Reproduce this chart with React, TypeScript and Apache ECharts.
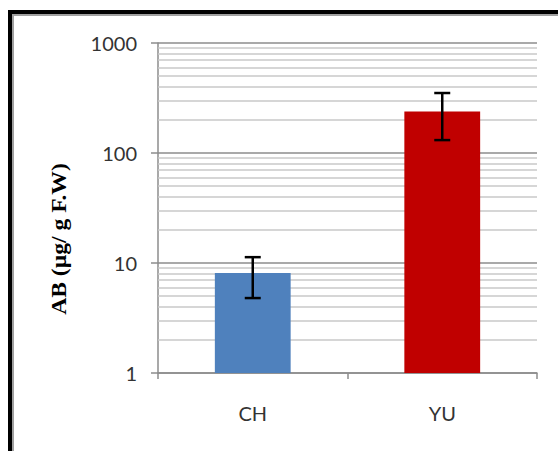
import React, { useEffect, useRef } from "react";
import * as echarts from "echarts";

const categories = ["CH", "YU"];
const meanValues = [8.1, 239];
const errorLow = [4.8, 131];
const errorHigh = [11.3, 351];
const barColors = ["#4F81BD", "#C00000"];
const minorGridValues = [2, 3, 4, 5, 6, 7, 8, 9, 20, 30, 40, 50, 60, 70, 80, 90, 200, 300, 400, 500, 600, 700, 800, 900];
const yTitle = "AB (µg/ g F.W)";

export default function App() {
  const ref = useRef<HTMLDivElement>(null);
  useEffect(() => {
    if (!ref.current) return;
    const chart = echarts.init(ref.current, null, { renderer: "svg" });
    const labelFont = "Lato, 'Open Sans', sans-serif";
    chart.setOption({
      animation: false,
      backgroundColor: "#ffffff",
      grid: { left: 158, right: 21, top: 43, bottom: 78 },
      xAxis: {
        type: "category",
        data: categories,
        axisLine: { lineStyle: { color: "#8c8c8c", width: 1.5 } },
        axisTick: { show: true, length: 6, lineStyle: { color: "#8c8c8c", width: 1.5 } },
        axisLabel: { color: "#333333", fontSize: 20, fontFamily: labelFont, margin: 30 },
      },
      yAxis: {
        type: "log",
        logBase: 10,
        min: 1,
        max: 1000,
        axisLine: { show: true, lineStyle: { color: "#8c8c8c", width: 1.5 } },
        axisTick: { show: true, length: 7, lineStyle: { color: "#8c8c8c", width: 1.5 } },
        axisLabel: {
          color: "#333333",
          fontSize: 20,
          fontFamily: labelFont,
          margin: 21,
          formatter: (v: number) => String(Math.round(v)),
        },
        splitLine: { show: true, lineStyle: { color: "#8c8c8c", width: 1.5 } },
      },
      series: [
        {
          type: "line",
          data: [],
          z: 1,
          silent: true,
          markLine: {
            z: 1,
            silent: true,
            symbol: ["none", "none"],
            label: { show: false },
            lineStyle: { color: "#c8c8c8", type: "solid", width: 1.5 },
            data: minorGridValues.map((v) => ({ yAxis: v })),
          },
        },
        {
          type: "bar",
          z: 3,
          barWidth: "40%",
          data: meanValues.map((v, i) => ({ value: v, itemStyle: { color: barColors[i] } })),
        },
        {
          type: "custom",
          z: 6,
          silent: true,
          data: categories.map((c, i) => [i, errorLow[i], errorHigh[i]]),
          renderItem: (params: any, api: any) => {
            const x = api.value(0);
            const lo = api.coord([x, api.value(1)]);
            const hi = api.coord([x, api.value(2)]);
            const cap = 8;
            const style = { stroke: "#000000", lineWidth: 2.5, fill: null };
            return {
              type: "group",
              children: [
                { type: "line", shape: { x1: lo[0], y1: lo[1], x2: hi[0], y2: hi[1] }, style },
                { type: "line", shape: { x1: lo[0] - cap, y1: lo[1], x2: lo[0] + cap, y2: lo[1] }, style },
                { type: "line", shape: { x1: hi[0] - cap, y1: hi[1], x2: hi[0] + cap, y2: hi[1] }, style },
              ],
            };
          },
        },
      ],
      graphic: [
        { type: "rect", shape: { x: 8, y: 10, width: 560, height: 4 }, style: { fill: "#000000" } },
        { type: "rect", shape: { x: 8, y: 10, width: 4, height: 460 }, style: { fill: "#000000" } },
        { type: "rect", shape: { x: 12, y: 14, width: 560, height: 2 }, style: { fill: "#a0a0a0" } },
        { type: "rect", shape: { x: 12, y: 14, width: 2, height: 460 }, style: { fill: "#a0a0a0" } },
        {
          type: "text",
          x: 60,
          y: 239,
          rotation: Math.PI / 2,
          scaleX: 1.18,
          style: {
            text: yTitle,
            fontSize: 20,
            fontWeight: "bold",
            fontFamily: "'Liberation Serif', serif",
            fill: "#000000",
            textAlign: "center",
            textVerticalAlign: "middle",
          },
        },
      ],
    });
    return () => chart.dispose();
  }, []);
  return (
    <div
      ref={ref}
      style={{ position: "fixed", left: 0, top: 0, width: 558, height: 451 }}
    />
  );
}
